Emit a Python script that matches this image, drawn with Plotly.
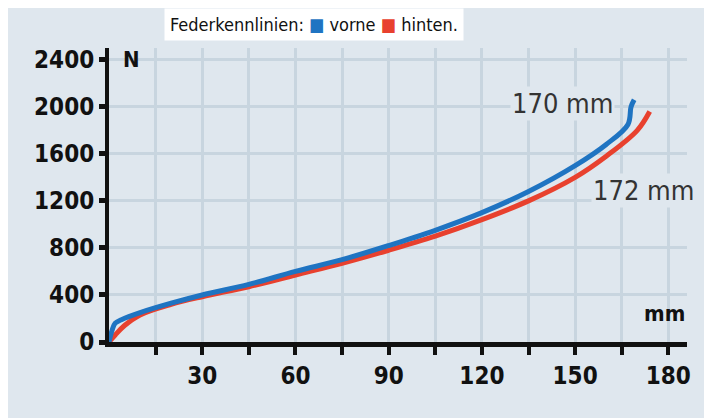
import plotly.graph_objects as go

vorne_x = [0, 1, 2, 4, 10, 20, 30, 45, 60, 75, 90, 105, 120, 135, 150, 160, 167, 168, 169]
vorne_y = [0, 100, 160, 190, 250, 330, 400, 490, 600, 700, 820, 950, 1100, 1280, 1500, 1680, 1850, 2000, 2060]
hinten_x = [0, 2, 5, 10, 20, 30, 45, 60, 75, 90, 105, 120, 135, 150, 160, 170, 174]
hinten_y = [0, 60, 140, 230, 320, 385, 470, 570, 670, 780, 900, 1040, 1200, 1400, 1580, 1800, 1960]
x_ticks = list(range(15, 181, 15))
x_labels = [str(v) if v % 30 == 0 else "" for v in x_ticks]
y_ticks = [0, 400, 800, 1200, 1600, 2000, 2400]

blue = "#1f74c2"
red = "#e8412e"
font = "DejaVu Sans Condensed, Liberation Sans Narrow, sans-serif"

fig = go.Figure()
fig.add_trace(go.Scatter(x=hinten_x, y=hinten_y, mode="lines", line=dict(color=red, width=5), line_shape="spline"))
fig.add_trace(go.Scatter(x=vorne_x, y=vorne_y, mode="lines", line=dict(color=blue, width=5), line_shape="spline"))

fig.update_layout(
    width=712, height=418, showlegend=False,
    paper_bgcolor="#dfe7ee", plot_bgcolor="#dfe7ee",
    margin=dict(l=101, r=33, t=40, b=84),
    font=dict(family=font, color="#111"),
    xaxis=dict(range=[0, 186], tickvals=x_ticks, ticktext=x_labels, ticks="outside",
               ticklen=8, tickwidth=4, tickcolor="#111", showline=True, linewidth=5,
               linecolor="#111", gridcolor="#c8d5df", gridwidth=3, zeroline=False,
               tickfont=dict(size=24, family=font), showgrid=True),
    yaxis=dict(range=[0, 2500], tickvals=y_ticks, ticks="outside", ticklen=6, tickwidth=5,
               tickcolor="#111", showline=True, linewidth=4, linecolor="#111",
               gridcolor="#c8d5df", gridwidth=3, zeroline=False,
               tickfont=dict(size=24, family=font)),
    annotations=[
        dict(text="Federkennlinien: <span style='color:%s'>■</span> vorne <span style='color:%s'>■</span> hinten." % (blue, red),
             xref="paper", yref="paper", x=0.095, y=1.0, yshift=40, xanchor="left", yanchor="top",
             showarrow=False, bgcolor="white", font=dict(size=18, family=font), borderpad=5),
        dict(text="<b>N</b>", x=4, y=2400, xanchor="left", showarrow=False, font=dict(size=22, family=font)),
        dict(text="<b>mm</b>", x=186, y=120, xanchor="right", yanchor="bottom", showarrow=False,
             font=dict(size=22, family=font)),
        dict(text="170 mm", x=146, y=2030, showarrow=False, bgcolor="#dfe7ee", font=dict(size=27, family=font, color="#333")),
        dict(text="172 mm", x=172, y=1290, showarrow=False, bgcolor="#dfe7ee", font=dict(size=27, family=font, color="#333")),
    ],
)
fig.update_xaxes(tickfont_weight="bold")
fig.update_yaxes(tickfont_weight="bold")
fig.write_html("out.html")
